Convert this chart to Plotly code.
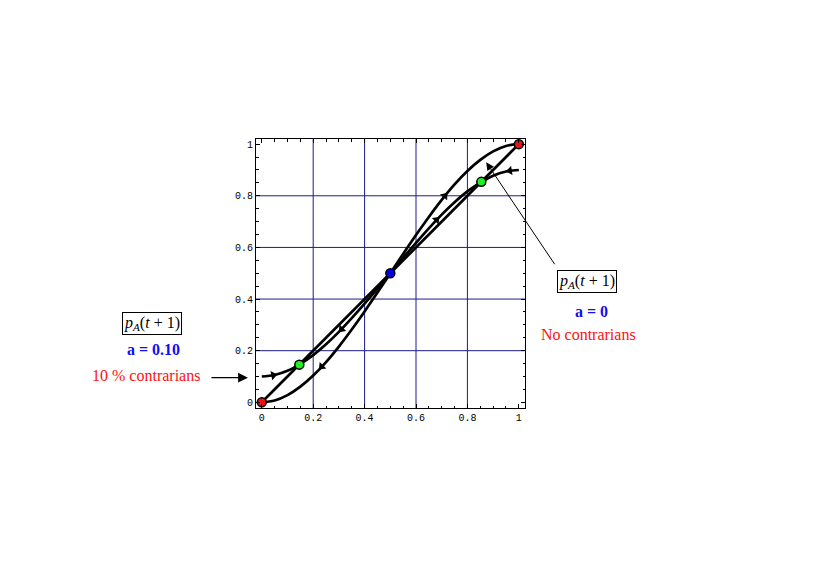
import plotly.graph_objects as go

# ---- data ----
P = [0.0, 0.05, 0.1, 0.15, 0.2, 0.25, 0.3, 0.35, 0.4, 0.45, 0.5,
     0.55, 0.6, 0.65, 0.7, 0.75, 0.8, 0.85, 0.9, 0.95, 1.0]
NEXT_A0 = [0.0, 0.007, 0.028, 0.061, 0.104, 0.156, 0.216, 0.282, 0.352, 0.425, 0.5,
           0.575, 0.648, 0.718, 0.784, 0.844, 0.896, 0.939, 0.972, 0.993, 1.0]
NEXT_A010 = [0.1, 0.106, 0.122, 0.149, 0.183, 0.225, 0.273, 0.326, 0.382, 0.44, 0.5,
             0.56, 0.618, 0.674, 0.727, 0.775, 0.817, 0.851, 0.878, 0.894, 0.9]
DIAG_X = [0.0, 1.0]
DIAG_Y = [0.0, 1.0]

# fixed points
RED_X = [0.0, 1.0]
RED_Y = [0.0, 1.0]
GREEN_X = [0.146, 0.854]
GREEN_Y = [0.146, 0.854]
BLUE_X = [0.5]
BLUE_Y = [0.5]

# flow arrows on curves
ARROW_X = [0.045, 0.31, 0.233, 0.68, 0.712, 0.965]
ARROW_Y = [0.105, 0.283, 0.138, 0.707, 0.80, 0.897]
ARROW_ANGLE = [79, 224, 223, 44, 39, 261]

TICKS = [0, 0.2, 0.4, 0.6, 0.8, 1]
TICK_TEXT = ["0", "0.2", "0.4", "0.6", "0.8", "1"]
GRID = [0.2, 0.4, 0.6, 0.8]

fig = go.Figure()

LW = 2.7
fig.add_trace(go.Scatter(x=P, y=NEXT_A0, mode="lines", line=dict(color="black", width=LW, shape="spline"),
                         hoverinfo="skip", showlegend=False))
fig.add_trace(go.Scatter(x=P, y=NEXT_A010, mode="lines", line=dict(color="black", width=LW, shape="spline"),
                         hoverinfo="skip", showlegend=False))
fig.add_trace(go.Scatter(x=DIAG_X, y=DIAG_Y, mode="lines", line=dict(color="black", width=LW),
                         hoverinfo="skip", showlegend=False))

fig.add_trace(go.Scatter(x=ARROW_X, y=ARROW_Y, mode="markers",
                         marker=dict(symbol="triangle-up", size=8, angle=ARROW_ANGLE, color="black",
                                     line=dict(width=0)),
                         hoverinfo="skip", showlegend=False))

for xs, ys, col in [(RED_X, RED_Y, "#ee1111"), (GREEN_X, GREEN_Y, "#22ee22"), (BLUE_X, BLUE_Y, "#0000ee")]:
    fig.add_trace(go.Scatter(x=xs, y=ys, mode="markers", cliponaxis=False,
                             marker=dict(size=9, color=col, line=dict(color="black", width=1.5)),
                             hoverinfo="skip", showlegend=False))

# grid lines
for g in GRID:
    fig.add_shape(type="line", xref="x", yref="paper", x0=g, x1=g, y0=0, y1=1,
                  line=dict(color="#1c1c8a", width=1), layer="below")
    fig.add_shape(type="line", xref="paper", yref="y", x0=0, x1=1, y0=g, y1=g,
                  line=dict(color="#1c1c8a", width=1), layer="below")

axis_common = dict(
    tickmode="array", tickvals=TICKS, ticktext=TICK_TEXT,
    showgrid=False, zeroline=False,
    showline=True, linecolor="black", linewidth=1, mirror="allticks",
    ticks="inside", ticklen=4, tickcolor="black", tickwidth=1,
    minor=dict(tickmode="linear", tick0=0, dtick=0.05, ticks="inside", ticklen=2.5,
               tickcolor="black", tickwidth=1, showgrid=False),
    tickfont=dict(family="Liberation Mono", size=10, color="black"),
)

fig.update_xaxes(range=[-0.0225, 1.024], **axis_common)
fig.update_yaxes(range=[-0.022, 1.020], **axis_common)

SERIF = "Liberation Serif"
box_text = "<i>p</i><sub><i>A</i></sub>(<i>t</i> + 1)"
ann = [
    dict(x=-0.387, y=0.3137, text=box_text, font=dict(family=SERIF, size=16, color="black"),
         bordercolor="black", borderwidth=1, borderpad=1),
    dict(x=-0.381, y=0.2159, text="<b>a = 0.10</b>", font=dict(family=SERIF, size=16, color="#1010ee")),
    dict(x=-0.4077, y=0.121, text="10 % contrarians", font=dict(family=SERIF, size=16, color="#ff1010")),
    dict(x=1.229, y=0.4689, text=box_text, font=dict(family=SERIF, size=16, color="black"),
         bordercolor="black", borderwidth=1, borderpad=1),
    dict(x=1.2458, y=0.3584, text="<b>a = 0</b>", font=dict(family=SERIF, size=16, color="#1010ee")),
    dict(x=1.2358, y=0.2717, text="No contrarians", font=dict(family=SERIF, size=16, color="#ff1010")),
]
for a in ann:
    fig.add_annotation(xref="paper", yref="paper", showarrow=False, xanchor="center", yanchor="middle", **a)

# pointer arrows
fig.add_annotation(xref="paper", yref="paper", x=-0.03, y=0.1128, ax=-38, ay=0, text="",
                   showarrow=True, arrowhead=2, arrowsize=1.4, arrowwidth=1.4, arrowcolor="black")
fig.add_annotation(xref="x", yref="y", x=0.873, y=0.930, ax=69.5, ay=103.5, text="",
                   showarrow=True, arrowhead=2, arrowsize=1.6, arrowwidth=1, arrowcolor="black")

# the page body has an 8px margin, so the plot area is offset by it
fig.update_layout(
    width=830, height=587,
    margin=dict(l=248, r=312.7, t=131.3, b=187, autoexpand=False),
    paper_bgcolor="white", plot_bgcolor="white",
    showlegend=False,
)

fig.write_html("out.html")
